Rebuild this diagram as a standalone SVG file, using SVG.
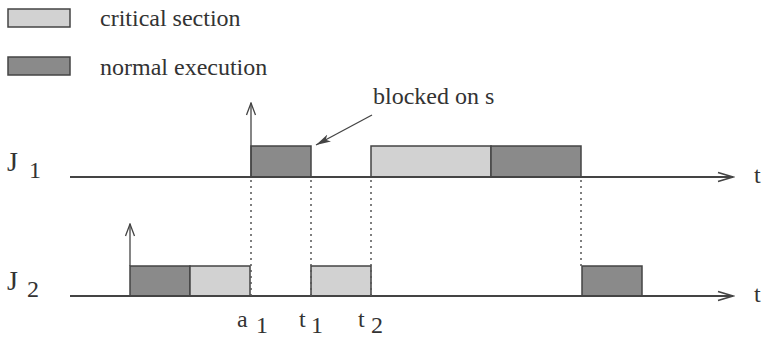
<svg xmlns="http://www.w3.org/2000/svg" width="762" height="338" viewBox="0 0 762 338">
  <defs>
    <marker id="arr" markerWidth="18" markerHeight="12" refX="16" refY="6" orient="auto" markerUnits="userSpaceOnUse">
      <path d="M1,1.5 L16,6 L1,10.5" fill="none" stroke="#444" stroke-width="1.6"/>
    </marker>
    <marker id="arrUp" markerWidth="14" markerHeight="12" refX="13" refY="6" orient="auto" markerUnits="userSpaceOnUse">
      <path d="M1,1.5 L13,6 L1,10.5" fill="none" stroke="#444" stroke-width="1.3"/>
    </marker>
    <marker id="arrFill" markerWidth="16" markerHeight="10" refX="15" refY="5" orient="auto" markerUnits="userSpaceOnUse">
      <path d="M0,1 L15,5 L0,9 L4,5 Z" fill="#444"/>
    </marker>
  </defs>
  <style>
    .lbl, .big, .sub { font-family: "Liberation Serif", "Times New Roman", serif; fill: #333; }
    .lbl { font-size: 24px; }
    .big { font-size: 28px; }
    .sub { font-size: 24px; }
    .crit { fill: #d2d2d2; stroke: #444; stroke-width: 1.5; }
    .norm { fill: #8a8a8a; stroke: #444; stroke-width: 1.5; }
    .axis { stroke: #444; stroke-width: 1.8; fill: none; }
    .dot { stroke: #555; stroke-width: 1.5; stroke-dasharray: 2 4; fill: none; }
    .thin { stroke: #444; stroke-width: 1.3; fill: none; }
  </style>

  <!-- legend -->
  <g id="legend">
    <rect class="crit" x="8" y="9" width="62" height="18"/>
    <text class="lbl" x="100" y="26">critical section</text>
    <rect class="norm" x="8" y="57" width="62" height="18"/>
    <text class="lbl" x="100" y="75">normal execution</text>
  </g>

  <!-- job J1 -->
  <g id="J1">
    <text class="big" x="7" y="171">J</text>
    <text class="sub" x="29" y="178">1</text>
    <rect class="norm" x="251" y="146" width="60" height="31"/>
    <rect class="crit" x="371" y="146" width="120" height="31"/>
    <rect class="norm" x="491" y="146" width="90" height="31"/>
  </g>

  <!-- job J2 -->
  <g id="J2">
    <text class="big" x="7" y="290">J</text>
    <text class="sub" x="27" y="297">2</text>
    <rect class="norm" x="130" y="266" width="60" height="30"/>
    <rect class="crit" x="190" y="266" width="60" height="30"/>
    <rect class="crit" x="311" y="266" width="60" height="30"/>
    <rect class="norm" x="582" y="266" width="60" height="30"/>
  </g>

  <!-- time labels -->
  <g id="times">
    <text class="lbl" x="237" y="327">a</text>
    <text class="sub" x="256" y="333">1</text>
    <text class="lbl" x="299" y="327">t</text>
    <text class="sub" x="311" y="333">1</text>
    <text class="lbl" x="358" y="327">t</text>
    <text class="sub" x="371" y="333">2</text>
    <text class="lbl" x="754" y="183">t</text>
    <text class="lbl" x="754" y="302">t</text>
  </g>

  <g id="annotation">
    <text class="lbl" x="373" y="104">blocked on s</text>
  </g>

  <!-- connectors -->
  <g id="connectors">
    <line class="axis" x1="70" y1="177" x2="733" y2="177" marker-end="url(#arr)"/>
    <line class="axis" x1="70" y1="296" x2="733" y2="296" marker-end="url(#arr)"/>
    <line class="thin" x1="251" y1="177" x2="251" y2="103" marker-end="url(#arrUp)"/>
    <line class="thin" x1="130" y1="266" x2="130" y2="224" marker-end="url(#arrUp)"/>
    <line class="thin" x1="372" y1="115" x2="316" y2="145" marker-end="url(#arrFill)"/>
    <line class="dot" x1="251" y1="180" x2="251" y2="300"/>
    <line class="dot" x1="311" y1="180" x2="311" y2="300"/>
    <line class="dot" x1="371" y1="180" x2="371" y2="300"/>
    <line class="dot" x1="581" y1="180" x2="581" y2="266"/>
  </g>
</svg>
